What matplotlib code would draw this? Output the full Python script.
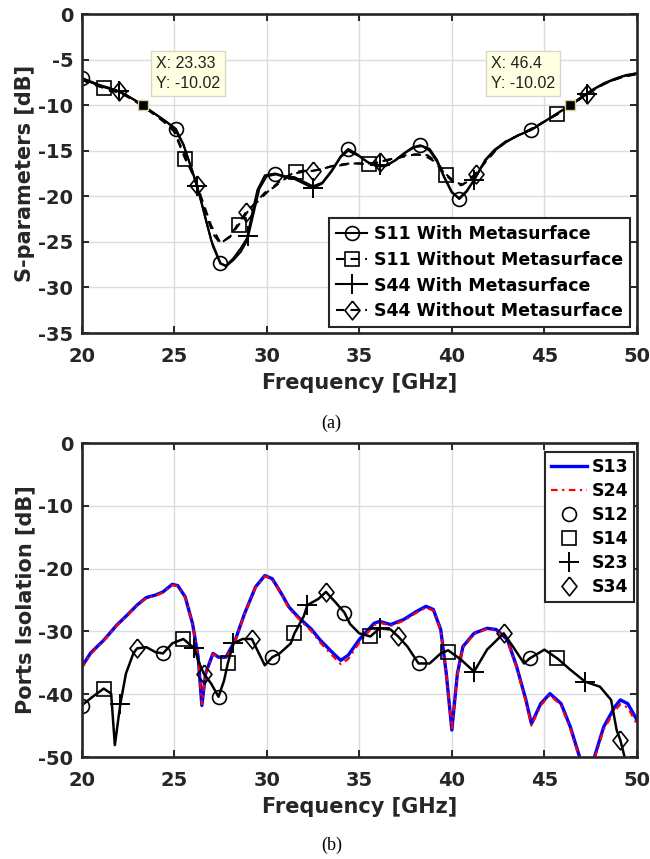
import matplotlib.pyplot as plt

plt.rcParams['font.family'] = ['DejaVu Sans']
plt.rcParams['font.weight'] = 'bold'
plt.rcParams['axes.labelweight'] = 'bold'
plt.rcParams['axes.unicode_minus'] = False

# ---------------- (a) S-parameters ----------------
f_s11w = [20, 20.5, 21, 21.5, 22, 22.5, 23, 23.5, 24, 24.5, 25.1, 25.5, 26, 26.5, 27, 27.5,
          27.8, 28.2, 28.6, 28.9, 29.2, 29.5, 29.9, 30.45, 31, 31.5, 32, 32.5, 33, 33.5, 34,
          34.4, 34.9, 35.4, 35.9, 36.4, 36.9, 37.4, 37.9, 38.3, 38.8, 39.2, 39.6, 40, 40.4,
          40.8, 41.3, 41.8, 42.3, 42.9, 43.6, 44.3, 45, 45.7, 46.4, 47, 47.6, 48.2, 48.8, 49.4, 50]
s11_with = [-7.0, -7.4, -7.8, -8.1, -8.5, -9.0, -9.6, -10.3, -11.0, -11.7, -12.6, -14.3, -17.3,
            -20.8, -24.8, -27.3, -27.7, -27.0, -26.1, -25.0, -22.0, -19.3, -17.7, -17.5, -17.8,
            -17.9, -18.4, -18.9, -18.5, -17.2, -15.6, -14.8, -15.4, -16.2, -16.7, -16.7, -16.1,
            -15.3, -14.6, -14.4, -14.8, -16.0, -17.9, -19.5, -20.3, -19.5, -17.9, -16.0, -14.9,
            -14.0, -13.3, -12.7, -11.8, -10.9, -10.0, -9.1, -8.3, -7.6, -7.1, -6.7, -6.5]
mk_s11w = [20, 25.1, 27.5, 30.45, 34.4, 38.3, 40.4, 44.3]

f_s11wo = [20, 20.6, 21.2, 21.8, 22.4, 23, 23.5, 24, 24.5, 25, 25.6, 26, 26.5, 27, 27.5, 28,
           28.5, 29, 29.5, 30, 30.5, 31, 31.6, 32, 32.5, 33, 33.5, 34, 34.5, 35, 35.5, 36, 36.5,
           37, 37.5, 38, 38.5, 39, 39.4, 39.7, 40.1, 40.5, 41, 41.5, 42, 42.5, 43, 43.6, 44.3,
           45, 45.7, 46.4, 47, 47.6, 48.2, 48.8, 49.4, 50]
s11_without = [-7.2, -7.7, -8.1, -8.5, -9.0, -9.7, -10.4, -11.1, -11.9, -12.9, -15.9, -17.5,
               -20.3, -23.2, -25.1, -24.5, -23.1, -21.6, -20.6, -19.6, -18.7, -17.9, -17.3,
               -17.2, -17.2, -17.0, -16.7, -16.5, -16.4, -16.4, -16.5, -16.3, -16.0, -15.8,
               -15.5, -15.4, -15.5, -16.1, -17.0, -17.7, -18.5, -18.8, -18.2, -17.0, -15.7,
               -14.6, -13.9, -13.3, -12.6, -11.8, -11.0, -10.0, -9.2, -8.4, -7.7, -7.2, -6.8, -6.6]
mk_s11wo = [21.2, 25.6, 28.5, 31.6, 35.5, 39.7, 45.7]

f_s44w = [20, 20.5, 21, 21.5, 22, 22.5, 23, 23.5, 24, 24.5, 25, 25.5, 26.25, 26.7, 27.1, 27.5,
          27.8, 28.2, 28.6, 29.0, 29.3, 29.6, 30, 30.5, 31, 31.5, 32, 32.5, 33, 33.5, 34, 34.4,
          35, 35.5, 36.1, 36.5, 37, 37.5, 38, 38.4, 38.8, 39.2, 39.6, 40, 40.4, 40.8, 41.2,
          41.8, 42.3, 42.9, 43.6, 44.3, 45, 45.7, 46.4, 47.3, 47.8, 48.4, 49, 49.5, 50]
s44_with = [-7.1, -7.5, -7.9, -8.2, -8.5, -9.0, -9.6, -10.3, -11.0, -11.7, -12.5, -14.3, -18.9,
            -22.5, -25.5, -27.4, -27.6, -26.8, -25.7, -24.4, -21.8, -19.2, -17.8, -17.6, -17.9,
            -18.1, -18.6, -19.1, -18.6, -17.3, -15.7, -15.0, -15.6, -16.3, -16.6, -16.6, -16.0,
            -15.2, -14.6, -14.5, -15.0, -16.2, -18.0, -19.6, -20.2, -19.4, -18.2, -16.1, -15.0,
            -14.1, -13.3, -12.7, -11.8, -10.9, -10.0, -8.8, -8.1, -7.5, -7.0, -6.7, -6.5]
mk_s44w = [22, 26.25, 29.0, 32.5, 36.1, 41.2, 47.3]

f_s44wo = [20, 20.6, 21.2, 22, 22.5, 23, 23.5, 24, 24.5, 25, 25.6, 26.25, 26.7, 27.1, 27.5, 28,
           28.5, 28.9, 29.4, 29.9, 30.4, 30.9, 31.5, 32, 32.5, 33, 33.5, 34, 34.6, 35.2, 35.7,
           36.1, 36.6, 37.1, 37.7, 38.2, 38.7, 39.2, 39.7, 40.2, 40.6, 41.3, 41.8, 42.4, 43,
           43.6, 44.3, 45, 45.7, 46.4, 47.3, 47.9, 48.5, 49.2, 50]
s44_without = [-7.2, -7.7, -8.1, -8.4, -9.0, -9.7, -10.4, -11.1, -11.9, -12.8, -15.6, -18.8,
               -21.8, -24.1, -25.2, -24.4, -22.9, -21.7, -20.7, -19.6, -19.0, -18.2, -17.5,
               -17.3, -17.2, -17.0, -16.7, -16.6, -16.4, -16.4, -16.4, -16.2, -16.0, -15.8,
               -15.5, -15.4, -15.5, -16.3, -17.6, -18.5, -18.7, -17.5, -16.3, -14.9, -13.9,
               -13.3, -12.6, -11.8, -11.0, -10.0, -8.8, -8.0, -7.4, -6.9, -6.6]
mk_s44wo = [22, 26.25, 28.9, 32.5, 36.1, 41.3, 47.3]

tip_f = [23.33, 46.4]
tip_db = [-10.02, -10.02]

# ---------------- (b) ports isolation ----------------
f_iso = [20.0, 20.5, 21.2, 21.9, 22.5, 23.0, 23.5, 24.0, 24.4, 24.9, 25.2, 25.6, 26.0, 26.3,
         26.5, 26.7, 27.1, 27.4, 27.8, 28.3, 28.8, 29.4, 29.9, 30.3, 30.8, 31.2, 31.7, 32.4,
         32.9, 33.6, 34.0, 34.4, 35.0, 35.8, 36.1, 36.7, 37.4, 38.1, 38.6, 39.0, 39.4, 39.7,
         40.0, 40.3, 40.6, 41.2, 41.9, 42.4, 43.0, 43.5, 44.0, 44.3, 44.8, 45.3, 45.9, 46.4,
         46.9, 47.3, 47.7, 48.2, 48.8, 49.1, 49.5, 50.0]
s13 = [-35.7, -33.4, -31.4, -29.0, -27.3, -25.8, -24.6, -24.2, -23.7, -22.5, -22.7, -24.5,
       -28.8, -34.1, -41.8, -36.7, -33.5, -34.1, -34.1, -31.4, -27.2, -22.9, -21.1, -21.6,
       -24.0, -26.1, -27.7, -29.6, -31.4, -33.5, -34.6, -33.8, -31.3, -28.7, -28.4, -28.9,
       -28.1, -26.8, -26.0, -26.5, -29.7, -36.7, -45.7, -36.7, -32.4, -30.3, -29.5, -29.7,
       -31.3, -35.6, -40.9, -44.7, -41.5, -39.9, -41.5, -45.2, -50.0, -53.0, -50.0, -45.2,
       -42.0, -40.9, -41.5, -44.1]
s24 = [-35.9, -33.6, -31.5, -29.1, -27.4, -25.9, -24.7, -24.3, -23.8, -22.6, -22.8, -24.6,
       -28.9, -34.2, -41.6, -36.8, -33.6, -34.2, -34.3, -31.5, -27.3, -23.0, -21.2, -21.7,
       -24.1, -26.3, -27.9, -29.9, -31.8, -34.0, -35.2, -34.4, -31.8, -29.0, -28.6, -29.1,
       -28.3, -27.0, -26.2, -26.7, -29.9, -36.8, -45.4, -36.9, -32.6, -30.4, -29.6, -29.8,
       -31.5, -35.8, -41.2, -45.0, -41.8, -40.1, -41.8, -45.5, -50.3, -53.0, -50.3, -45.6,
       -42.6, -41.6, -42.1, -44.8]

f_blk = [20.0, 20.6, 21.2, 21.6, 21.8, 22.1, 22.4, 22.8, 23.0, 23.5, 24.0, 24.4, 24.9, 25.5,
         26.1, 26.3, 26.6, 27.0, 27.4, 27.7, 27.9, 28.2, 28.7, 29.2, 29.5, 29.9, 30.3, 30.7,
         31.3, 31.5, 32.0, 32.2, 32.8, 33.2, 33.7, 34.2, 34.5, 35.0, 35.6, 36.1, 36.7, 37.1,
         37.6, 38.2, 38.8, 39.4, 39.8, 40.5, 41.2, 41.9, 42.8, 43.3, 43.9, 44.2, 45.0, 45.7,
         46.4, 47.2, 48.0, 48.6, 48.9, 49.1, 49.5]
s_blk = [-41.8, -40.4, -39.1, -39.9, -48.1, -41.5, -36.7, -33.5, -32.7, -32.5, -33.3, -33.5,
         -31.9, -31.2, -32.7, -34.6, -36.7, -38.3, -40.4, -37.8, -35.1, -31.9, -31.2, -31.2,
         -33.0, -35.4, -34.1, -33.5, -31.9, -30.3, -27.6, -25.8, -24.8, -23.7, -25.3, -27.0,
         -28.8, -30.3, -30.8, -29.5, -29.7, -30.8, -32.4, -35.1, -35.1, -33.5, -33.0, -34.5,
         -36.4, -32.9, -30.3, -32.4, -35.1, -34.3, -32.9, -34.3, -36.1, -38.0, -38.8, -40.9,
         -45.7, -47.3, -52.0]

s12_f = [20.0, 24.4, 27.4, 30.3, 34.2, 38.2, 44.2]
s12_v = [-41.8, -33.5, -40.4, -34.1, -27.0, -35.1, -34.3]
s14_f = [21.2, 25.5, 27.9, 31.5, 35.6, 39.8, 45.7]
s14_v = [-39.1, -31.2, -35.1, -30.3, -30.8, -33.2, -34.3]
s23_f = [22.1, 26.1, 28.2, 32.2, 36.1, 41.2, 47.2]
s23_v = [-41.5, -32.7, -31.9, -25.8, -29.5, -36.4, -38.0]
s34_f = [23.0, 26.6, 29.2, 33.2, 37.1, 42.8, 49.1]
s34_v = [-32.7, -36.7, -31.2, -23.7, -30.8, -30.3, -47.3]

AXC = '#262626'
# MATLAB-like diamond: slightly taller than wide
DIAMOND = [(0, 1), (0.8, 0), (0, -1), (-0.8, 0), (0, 1)]


def mark_idx(freqs, marks):
    return [i for i, f in enumerate(freqs) if f in marks]


def style_axes(ax, yticks):
    ax.set_xlim(20, 50)
    ax.set_xticks(range(20, 51, 5))
    ax.set_yticks(yticks)
    ax.set_ylim(yticks[0], yticks[-1])
    ax.grid(True, color='#dcdcdc', lw=1.0)
    ax.set_axisbelow(True)
    for sp in ax.spines.values():
        sp.set_linewidth(1.9)
        sp.set_color(AXC)
    ax.tick_params(direction='in', top=True, right=True, length=5, width=1.4,
                   colors=AXC, labelsize=14)
    ax.tick_params(axis='x', pad=10)
    ax.tick_params(axis='y', pad=6)
    ax.set_xlabel('Frequency [GHz]', fontsize=15, color=AXC, labelpad=5)


fig = plt.figure(figsize=(6.5, 8.59), dpi=100)
ax1 = fig.add_axes([0.1254, 0.6123, 0.8546, 0.3714])
ax2 = fig.add_axes([0.1254, 0.1187, 0.8546, 0.3655])

# (a)
mk_o = dict(ms=10, mfc='none', mec='k', mew=1.2)
mk_s = dict(ms=9.5, mfc='none', mec='k', mew=1.2)
mk_p = dict(ms=14, mec='k', mew=1.4)
mk_d = dict(ms=13.5, mfc='none', mec='k', mew=1.2)
ax1.plot(f_s11w, s11_with, color='k', lw=1.5, marker='o',
         markevery=mark_idx(f_s11w, mk_s11w), label='S11 With Metasurface', **mk_o)
ax1.plot(f_s11wo, s11_without, color='k', lw=1.5, ls='--', dashes=(4, 3), marker='s',
         markevery=mark_idx(f_s11wo, mk_s11wo), label='S11 Without Metasurface', **mk_s)
ax1.plot(f_s44w, s44_with, color='k', lw=1.5, marker='+',
         markevery=mark_idx(f_s44w, mk_s44w), label='S44 With Metasurface', **mk_p)
ax1.plot(f_s44wo, s44_without, color='k', lw=1.5, ls='--', dashes=(4, 3), marker=DIAMOND,
         markevery=mark_idx(f_s44wo, mk_s44wo), label='S44 Without Metasurface', **mk_d)
ax1.plot(tip_f, tip_db, ls='none', marker='s', ms=6.5, mfc='k', mec='#d8cf9a', mew=1, zorder=5)

style_axes(ax1, list(range(-35, 1, 5)))
ax1.set_ylabel('S-parameters [dB]', fontsize=15, color=AXC, labelpad=2)

for f0, y0, tx in zip(tip_f, tip_db, [24.02, 42.1]):
    ax1.text(tx, -6.5, 'X: %g\nY: %.2f' % (f0, y0), ha='left', va='center',
             family='Liberation Sans', weight='normal', fontsize=11.5, color='#202020',
             linespacing=1.45, zorder=6,
             bbox=dict(boxstyle='square,pad=0.3', fc='#ffffe1', ec='#d8d8c8', lw=1.0))

leg1 = ax1.legend(loc='lower right', bbox_to_anchor=(0.988, 0.018), borderaxespad=0,
                  fontsize=12.5, handlelength=1.8, handletextpad=0.4, labelspacing=0.45,
                  borderpad=0.4, numpoints=1, fancybox=False, framealpha=1, edgecolor=AXC)
leg1.get_frame().set_linewidth(1.5)

# (b)
ax2.plot(f_iso, s13, color='#0000ff', lw=2.4, label='S13')
ax2.plot(f_iso, s24, color='#ff0000', lw=1.6, ls='-.', dashes=(3, 2, 1, 2), label='S24')
ax2.plot(f_blk, s_blk, color='k', lw=1.8)
ax2.plot(s12_f, s12_v, ls='none', marker='o', label='S12', **mk_o)
ax2.plot(s14_f, s14_v, ls='none', marker='s', label='S14', **mk_s)
ax2.plot(s23_f, s23_v, ls='none', marker='+', label='S23', **mk_p)
ax2.plot(s34_f, s34_v, ls='none', marker=DIAMOND, label='S34', **mk_d)

style_axes(ax2, list(range(-50, 1, 10)))
ax2.set_ylabel('Ports Isolation [dB]', fontsize=15, color=AXC, labelpad=2)

leg2 = ax2.legend(loc='upper right', bbox_to_anchor=(0.995, 0.972), borderaxespad=0,
                  fontsize=12.5, handlelength=2.1, handletextpad=0.25, labelspacing=0.35,
                  borderpad=0.35, numpoints=1, fancybox=False, framealpha=1, edgecolor=AXC)
leg2.get_frame().set_linewidth(1.5)

fig.text(0.51, 0.5076, '(a)', ha='center', va='center', family='Liberation Serif',
         weight='normal', fontsize=13)
fig.text(0.51, 0.0163, '(b)', ha='center', va='center', family='Liberation Serif',
         weight='normal', fontsize=13)

fig.savefig('out.png', dpi=100)
